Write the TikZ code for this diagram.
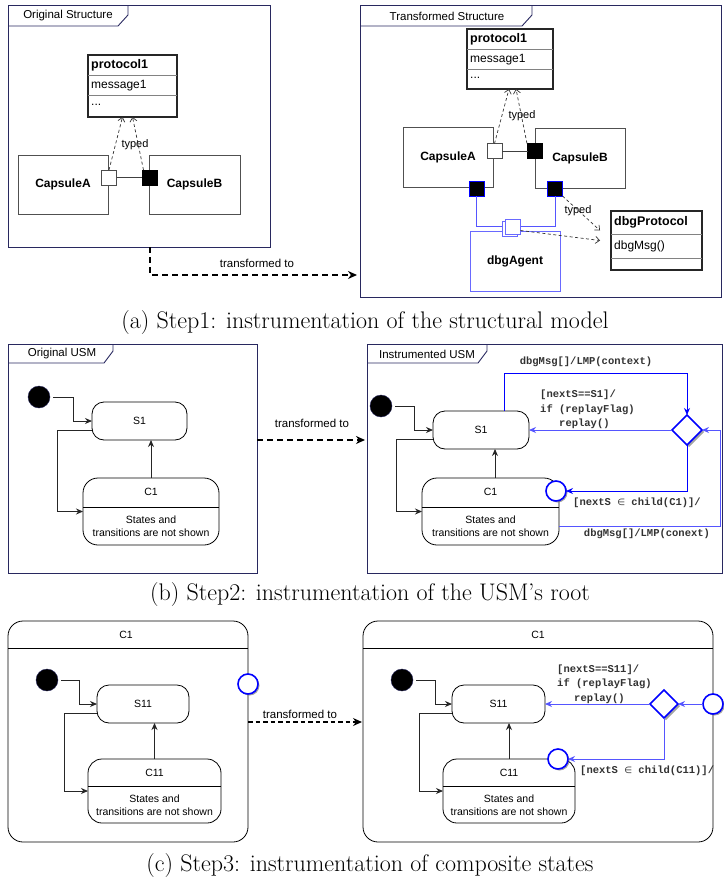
\documentclass[tikz,border=0pt]{standalone}
\usepackage{fontspec}
\usetikzlibrary{arrows.meta,shapes.geometric,shadows}
\newfontfamily\arialf{Liberation Sans}
\newfontfamily\monof{Liberation Mono}
\newfontfamily\dvsf{DejaVu Sans}
\definecolor{framec}{RGB}{40,40,95}
\definecolor{bblue}{RGB}{0,0,255}
\definecolor{lblue}{RGB}{85,85,255}
\definecolor{agentc}{RGB}{105,105,255}
\definecolor{boxgray}{RGB}{80,80,80}
\definecolor{rowgray}{RGB}{130,130,130}
\definecolor{labgray}{RGB}{50,50,50}
\begin{document}
\begin{tikzpicture}[x=1pt,y=-1pt,
  frm/.style={draw=framec,line width=0.9pt,inner sep=0pt,outer sep=0pt},
  tabline/.style={draw=framec,line width=0.9pt},
  tabtxt/.style={font=\arialf\fontsize{11.5}{13}\selectfont,inner sep=0pt},
  cls/.style={draw=black!85,line width=1.6pt,inner sep=0pt,outer sep=0pt,fill=white},
  rowline/.style={draw=rowgray,line width=1pt},
  clsh/.style={font=\arialf\bfseries\fontsize{12.5}{14}\selectfont,anchor=west,inner sep=0pt},
  clsr/.style={font=\arialf\fontsize{12}{14}\selectfont,anchor=west,inner sep=0pt},
  caps/.style={draw=boxgray,line width=0.9pt,inner sep=0pt,outer sep=0pt,fill=white,font=\arialf\bfseries\fontsize{12}{14}\selectfont},
  pw/.style={draw=black!70,fill=white,line width=0.8pt,minimum size=15pt,inner sep=0pt,outer sep=0pt},
  pb/.style={draw=black,fill=black,line width=0.8pt,minimum size=15pt,inner sep=0pt,outer sep=0pt},
  pbb/.style={draw=bblue,fill=black,line width=1pt,minimum size=15pt,inner sep=0pt,outer sep=0pt},
  apt/.style={draw=agentc,fill=white,line width=1pt,minimum size=15pt,inner sep=0pt,outer sep=0pt},
  agentbox/.style={draw=agentc,fill=white,line width=1pt,inner sep=0pt,outer sep=0pt,font=\arialf\bfseries\fontsize{12}{14}\selectfont},
  lb/.style={draw=lblue,line width=1pt},
  typed/.style={draw=black!80,dash pattern=on 3pt off 2.5pt,line width=0.7pt,-{Straight Barb[length=4pt,width=7pt]}},
  smalltxt/.style={font=\arialf\fontsize{11}{13}\selectfont,inner sep=0pt},
  trans/.style={line width=1.7pt,dash pattern=on 6pt off 4pt,-{Stealth[length=9pt,width=8pt]}},
  transtxt/.style={font=\arialf\fontsize{11.5}{13}\selectfont,inner sep=0pt},
  st/.style={draw=black,line width=0.8pt,rounded corners=12pt,inner sep=0pt,outer sep=0pt,fill=white},
  stxt/.style={font=\arialf\fontsize{10.5}{13}\selectfont,inner sep=0pt},
  init/.style={circle,fill=black,draw=framec,minimum size=22pt,inner sep=0pt,outer sep=0pt},
  sarr/.style={draw=black!85,line width=0.9pt,-{Stealth[length=7pt,width=6pt]}},
  barr/.style={draw=bblue,line width=0.9pt,-{Stealth[length=7pt,width=6pt]}},
  lbarr/.style={draw=lblue,line width=0.9pt,-{Stealth[length=7pt,width=6pt]}},
  ent/.style={circle,draw=bblue,fill=white,line width=1.6pt,minimum size=20pt,inner sep=0pt,outer sep=0pt,drop shadow={shadow xshift=1.5pt,shadow yshift=-1.5pt,fill=black!60,opacity=0.6}},
  dia/.style={diamond,draw=bblue,fill=white,line width=1.6pt,minimum size=30pt,inner sep=0pt,outer sep=0pt,drop shadow={shadow xshift=2pt,shadow yshift=-2pt,fill=black!60,opacity=0.6}},
  mlab/.style={font=\monof\bfseries\fontsize{10.5}{12}\selectfont,text=labgray,inner sep=0pt},
  capt/.style={font=\fontsize{24}{27}\selectfont,inner sep=0pt,anchor=base}
]
\useasboundingbox (0,0) rectangle (723,886);

% ================= (a) left =================
\node[frm,minimum width=262pt,minimum height=242pt] (osf) at (139,126) {};
\draw[tabline] ([yshift=-21pt]osf.north west) -- ++(110,0) -- ++(10,-11) -- ++(0,-10);
\node[tabtxt] (osft) at (68,16) {Original Structure};

\node[cls,minimum width=89pt,minimum height=62pt] (pa) at (132.5,86) {};
\draw[rowline] ([yshift=-20pt]pa.north west) -- ([yshift=-20pt]pa.north east);
\draw[rowline] ([yshift=-40pt]pa.north west) -- ([yshift=-40pt]pa.north east);
\node[clsh] (pah) at ([xshift=3pt,yshift=-10.5pt]pa.north west) {protocol1};
\node[clsr] (pam) at ([xshift=3pt,yshift=-30.5pt]pa.north west) {message1};
\node[clsr] (pad) at ([xshift=3pt,yshift=-50pt]pa.north west) {...};

\node[caps,minimum width=90pt,minimum height=59pt] (ca) at (63,184.5) {CapsuleA};
\node[caps,minimum width=91pt,minimum height=59pt] (cb) at (194.5,184.5) {CapsuleB};
\node[pw] (pA) at (109,177.5) {};
\node[pb] (pB) at (149.5,177.5) {};
\draw[draw=black!75,line width=0.8pt] (pA.east) -- (pB.west);
\draw[typed] (pA.north) -- ([xshift=-10pt]pa.south);
\draw[typed] ([xshift=-6pt]pB.north) -- (pa.south);
\node[smalltxt] (ty1) at (135,145) {typed};

% ================= (a) right =================
\node[frm,minimum width=361.5pt,minimum height=292pt] (tsf) at (540.75,151) {};
\draw[tabline] ([yshift=-21pt]tsf.north west) -- ++(162,0) -- ++(10,-11) -- ++(0,-10);
\node[tabtxt] (tsft) at (447,16) {Transformed Structure};

\node[cls,minimum width=86pt,minimum height=60pt] (pr) at (510,59) {};
\draw[rowline] ([yshift=-20pt]pr.north west) -- ([yshift=-20pt]pr.north east);
\draw[rowline] ([yshift=-40pt]pr.north west) -- ([yshift=-40pt]pr.north east);
\node[clsh] (prh) at ([xshift=3pt,yshift=-10.5pt]pr.north west) {protocol1};
\node[clsr] (prm) at ([xshift=3pt,yshift=-30.5pt]pr.north west) {message1};
\node[clsr] (prd) at ([xshift=3pt,yshift=-49pt]pr.north west) {...};

\node[caps,minimum width=90pt,minimum height=60pt] (ca2) at (448,157) {CapsuleA};
\node[caps,minimum width=90pt,minimum height=60pt] (cb2) at (580,158) {CapsuleB};
\node[pw] (pA2) at (494.5,151) {};
\node[pb] (pB2) at (535,151) {};
\draw[draw=black!75,line width=0.8pt] (pA2.east) -- (pB2.west);
\node[pbb] (pA3) at (476.5,188.5) {};
\node[pbb] (pB3) at (555,188.5) {};

\node[agentbox,minimum width=90pt,minimum height=60pt] (ag) at (515,261) {dbgAgent};
\node[apt] (agb) at (509.5,228.5) {};
\node[apt] (agf) at (513,226.5) {};
\draw[lb] (pA3.south) |- ([yshift=2.5pt]agb.west);
\draw[lb] (pB3.south) |- (agf.east);

\draw[typed] (pA2.north) -- ([xshift=-1pt]pr.south);
\draw[typed] ([xshift=-8pt]pB2.north) -- ([xshift=6pt]pr.south);
\node[smalltxt] (ty2) at (522,116) {typed};

\node[cls,minimum width=91pt,minimum height=59pt] (dp) at (656.5,240.5) {};
\draw[rowline] ([yshift=-23pt]dp.north west) -- ([yshift=-23pt]dp.north east);
\draw[rowline] ([yshift=-47pt]dp.north west) -- ([yshift=-47pt]dp.north east);
\node[clsh] (dph) at ([xshift=3pt,yshift=-11.5pt]dp.north west) {dbgProtocol};
\node[clsr] (dpm) at ([xshift=3pt,yshift=-35pt]dp.north west) {dbgMsg()};
\draw[typed] (pB3.south east) -- ([xshift=-11pt,yshift=10pt]dp.west);
\draw[typed] ([yshift=-4pt]agf.east) -- ([xshift=-11pt]dp.west);
\node[smalltxt] (ty3) at (578,211) {typed};

\coordinate (ta) at (357,275);
\draw[trans] ([xshift=11pt]osf.south) |- (ta);
\node[transtxt] (tat) at (257,263) {transformed to};

\node[capt] (capa) at (365,328) {(a) Step1: instrumentation of the structural model};

% ================= (b) left =================
\node[frm,minimum width=249pt,minimum height=229pt] (ousm) at (132.5,458.5) {};
\draw[tabline] ([yshift=-19pt]ousm.north west) -- ++(96,0) -- ++(9,-12) -- ++(0,-7);
\node[tabtxt] (ousmt) at (62,354) {Original USM};

\node[init] (i1) at (39,397) {};
\node[st,minimum width=95pt,minimum height=38pt] (s1) at (139.5,421) {};
\node[stxt] (s1t) at (s1) {S1};
\node[st,rounded corners=15pt,minimum width=136pt,minimum height=67pt] (c1) at (151,511.5) {};
\draw[draw=black,line width=0.8pt] ([yshift=-29pt]c1.north west) -- ([yshift=-29pt]c1.north east);
\node[stxt] (c1t) at (151,492) {C1};
\node[stxt,align=center] (c1d) at (151,526.5) {States and\\transitions are not shown};
\draw[sarr,shorten <=3pt] (i1.east) -| ([xshift=-19pt]s1.west) -- (s1.west);
\draw[sarr] ([yshift=-9pt]s1.west) -| ([xshift=-26pt]c1.west) -- (c1.west);
\draw[sarr] (c1.north) -- (c1.north |- s1.south);

\coordinate (tb) at (365,440);
\draw[trans] ([yshift=18.5pt]ousm.east) -- (tb);
\node[transtxt] (tbt) at (312,423) {transformed to};

% ================= (b) right =================
\node[frm,minimum width=355pt,minimum height=229pt] (iusm) at (544.5,458.5) {};
\draw[tabline] ([yshift=-19pt]iusm.north west) -- ++(111,0) -- ++(9,-12) -- ++(0,-7);
\node[tabtxt] (iusmt) at (427,354) {Instrumented USM};

\node[init] (i2) at (381,406) {};
\node[st,minimum width=96pt,minimum height=38pt] (s1r) at (481,430) {};
\node[stxt] (s1rt) at (s1r) {S1};
\node[st,rounded corners=15pt,minimum width=137pt,minimum height=67pt] (c1r) at (490.5,511.5) {};
\draw[draw=black,line width=0.8pt] ([yshift=-29pt]c1r.north west) -- ([yshift=-29pt]c1r.north east);
\node[stxt] (c1rt) at (490.5,492) {C1};
\node[stxt,align=center] (c1rd) at (490.5,526.5) {States and\\transitions are not shown};
\draw[sarr,shorten <=3pt] (i2.east) -| ([xshift=-19pt]s1r.west) -- (s1r.west);
\draw[sarr] ([yshift=-9pt]s1r.west) -| ([xshift=-26pt]c1r.west) -- (c1r.west);
\draw[sarr] ([xshift=4.5pt]c1r.north) -- ([xshift=4.5pt]c1r.north |- s1r.south);

\node[dia] (d1) at (687,430) {};
\node[ent] (e1) at (556,491) {};
\draw[barr] ([xshift=23pt]s1r.north) -- ++(0,-38) -| (d1.north);
\node[mlab] (l1) at (586,362) {dbgMsg[]/LMP(context)};
\draw[lbarr] (d1.west) -- (s1r.east);
\node[mlab,anchor=base west] (l2) at (540,397.5) {[nextS==S1]/};
\node[mlab,anchor=base west] (l3) at (540,412.5) {if (replayFlag)};
\node[mlab,anchor=base west] (l4) at (559,426.5) {replay()};
\draw[barr] (d1.south) |- (e1.east);
\node[mlab,anchor=base west] (l5) at (573,505.5) {[nextS {\dvsf\mdseries\fontsize{9}{10}\selectfont ∈} child(C1)]/};
\draw[lbarr] ([yshift=-14.5pt]c1r.east) -- ++(161,0) |- (d1.east);
\node[mlab] (l6) at (647,534) {dbgMsg[]/LMP(conext)};

\node[capt] (capb) at (370,600) {(b) Step2: instrumentation of the USM's root};

% ================= (c) left =================
\node[st,rounded corners=15pt,minimum width=240pt,minimum height=221pt] (cb1) at (128,731.5) {};
\draw[draw=black,line width=0.8pt] ([yshift=-27pt]cb1.north west) -- ([yshift=-27pt]cb1.north east);
\node[stxt] (cb1t) at (126,635) {C1};
\node[init] (i3) at (47,680) {};
\node[st,minimum width=92pt,minimum height=38pt] (s11) at (143,704) {};
\node[stxt] (s11t) at (s11) {S11};
\node[st,rounded corners=14pt,minimum width=133pt,minimum height=64pt] (c11) at (154.5,791) {};
\draw[draw=black,line width=0.8pt] ([yshift=-27pt]c11.north west) -- ([yshift=-27pt]c11.north east);
\node[stxt] (c11t) at (154.5,773) {C11};
\node[stxt,align=center] (c11d) at (154.5,805.5) {States and\\transitions are not shown};
\draw[sarr,shorten <=3pt] (i3.east) -| ([xshift=-18pt]s11.west) -- (s11.west);
\draw[sarr] ([yshift=-9pt]s11.west) -| ([xshift=-24pt]c11.west) -- (c11.west);
\draw[sarr] (c11.north) -- (c11.north |- s11.south);
\node[ent] (e2) at (248,684) {};

\coordinate (tc) at (362,722);
\draw[trans,line width=1.3pt,dash pattern=on 4.5pt off 3pt] ([yshift=9.5pt]cb1.east) -- (tc);
\node[transtxt] (tct) at (300,714) {transformed to};

% ================= (c) right =================
\node[st,rounded corners=15pt,minimum width=350pt,minimum height=221pt] (cb2) at (538,731.5) {};
\draw[draw=black,line width=0.8pt] ([yshift=-27pt]cb2.north west) -- ([yshift=-27pt]cb2.north east);
\node[stxt] (cb2t) at (538,635) {C1};
\node[init] (i4) at (402,680) {};
\node[st,minimum width=93pt,minimum height=38pt] (s11r) at (498.5,704) {};
\node[stxt] (s11rt) at (s11r) {S11};
\node[st,rounded corners=14pt,minimum width=132pt,minimum height=64pt] (c11r) at (509,791) {};
\draw[draw=black,line width=0.8pt] ([yshift=-27pt]c11r.north west) -- ([yshift=-27pt]c11r.north east);
\node[stxt] (c11rt) at (509,773) {C11};
\node[stxt,align=center] (c11rd) at (509,805.5) {States and\\transitions are not shown};
\draw[sarr,shorten <=3pt] (i4.east) -| ([xshift=-17pt]s11r.west) -- (s11r.west);
\draw[sarr] ([yshift=-9pt]s11r.west) -| ([xshift=-24pt]c11r.west) -- (c11r.west);
\draw[sarr] (c11r.north) -- (c11r.north |- s11r.south);

\node[dia,minimum size=28pt] (d2) at (664,704) {};
\node[ent] (e3) at (713,704) {};
\node[ent] (e4) at (558,759) {};
\draw[lbarr] (e3.west) -- (d2.east);
\draw[lbarr] (d2.west) -- (s11r.east);
\draw[lbarr] (d2.south) |- (e4.east);
\node[mlab,anchor=base west] (m1) at (557,672.5) {[nextS==S11]/};
\node[mlab,anchor=base west] (m2) at (557,686.5) {if (replayFlag)};
\node[mlab,anchor=base west] (m3) at (574,701.5) {replay()};
\node[mlab,anchor=base west] (m4) at (580,773.5) {[nextS {\dvsf\mdseries\fontsize{9}{10}\selectfont ∈} child(C11)]/};

\node[capt] (capc) at (370,871) {(c) Step3: instrumentation of composite states};
\end{tikzpicture}
\end{document}
